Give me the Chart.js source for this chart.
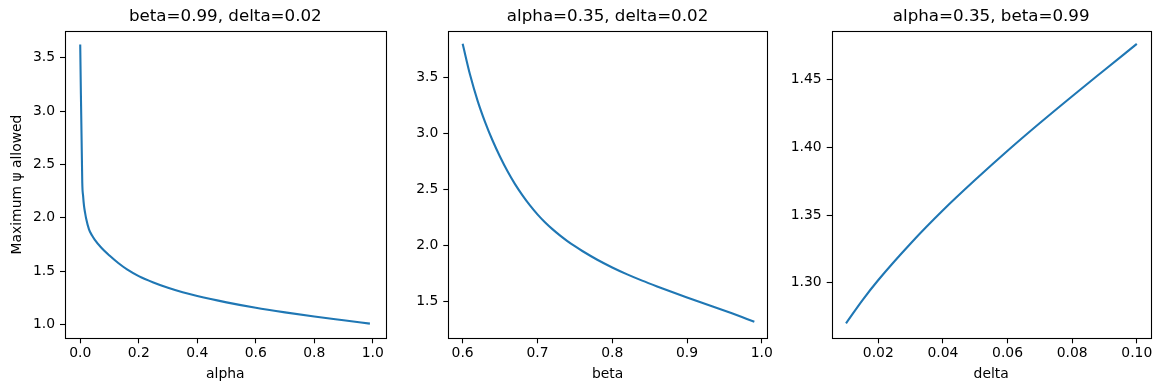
<!DOCTYPE html>
<html><head><meta charset="utf-8">
<script src="https://cdn.jsdelivr.net/npm/chart.js@4.4.1/dist/chart.umd.min.js"></script>
<style>
html,body{margin:0;padding:0;background:#fff;}
#wrap{position:relative;width:1161px;height:391px;overflow:hidden;background:#fff;}
canvas{position:absolute;top:0;}
</style></head><body>
<div id="wrap">
<canvas id="c1" width="390" height="391" style="left:0px"></canvas>
<canvas id="c2" width="385" height="391" style="left:390px"></canvas>
<canvas id="c3" width="386" height="391" style="left:775px"></canvas>
</div>
<script>
// ---- Panel 1: varying alpha (beta=0.99, delta=0.02)
const alphaValues = [0.000, 0.007, 0.010, 0.013, 0.017, 0.020, 0.030, 0.040, 0.050, 0.070, 0.100, 0.130, 0.160, 0.200, 0.250, 0.300, 0.350, 0.400, 0.500, 0.600, 0.700, 0.800, 0.900, 0.990];
const psiByAlpha  = [3.625, 2.330, 2.200, 2.110, 2.040, 1.995, 1.890, 1.835, 1.792, 1.725, 1.645, 1.575, 1.515, 1.452, 1.392, 1.342, 1.300, 1.265, 1.206, 1.155, 1.112, 1.073, 1.038, 1.007];

// ---- Panel 2: varying beta (alpha=0.35, delta=0.02)
const betaValues = [0.60, 0.61, 0.62, 0.63, 0.64, 0.65, 0.66, 0.67, 0.68, 0.69, 0.70, 0.71, 0.72, 0.73, 0.74, 0.75, 0.76, 0.78, 0.80, 0.82, 0.84, 0.86, 0.88, 0.90, 0.92, 0.94, 0.96, 0.98, 0.99];
const psiByBeta  = [3.80, 3.52, 3.29, 3.10, 2.935, 2.79, 2.66, 2.545, 2.445, 2.355, 2.275, 2.205, 2.143, 2.087, 2.036, 1.990, 1.947, 1.869, 1.800, 1.738, 1.682, 1.630, 1.580, 1.532, 1.485, 1.438, 1.390, 1.340, 1.315];

// ---- Panel 3: varying delta (alpha=0.35, beta=0.99)
const deltaValues = [0.010, 0.015, 0.020, 0.030, 0.040, 0.050, 0.060, 0.070, 0.080, 0.090, 0.100];
const psiByDelta  = [1.270, 1.2868, 1.302, 1.329, 1.3535, 1.376, 1.3975, 1.418, 1.4378, 1.4572, 1.4765];

// ---- Tick values and labels
const xTicks1 = [0.0, 0.2, 0.4, 0.6, 0.8, 1.0];
const xTickLabels1 = ['0.0', '0.2', '0.4', '0.6', '0.8', '1.0'];
const yTicks1 = [1.0, 1.5, 2.0, 2.5, 3.0, 3.5];
const yTickLabels1 = ['1.0', '1.5', '2.0', '2.5', '3.0', '3.5'];
const xTicks2 = [0.6, 0.7, 0.8, 0.9, 1.0];
const xTickLabels2 = ['0.6', '0.7', '0.8', '0.9', '1.0'];
const yTicks2 = [1.5, 2.0, 2.5, 3.0, 3.5];
const yTickLabels2 = ['1.5', '2.0', '2.5', '3.0', '3.5'];
const xTicks3 = [0.02, 0.04, 0.06, 0.08, 0.10];
const xTickLabels3 = ['0.02', '0.04', '0.06', '0.08', '0.10'];
const yTicks3 = [1.30, 1.35, 1.40, 1.45];
const yTickLabels3 = ['1.30', '1.35', '1.40', '1.45'];

const titles = ['beta=0.99, delta=0.02', 'alpha=0.35, delta=0.02', 'alpha=0.35, beta=0.99'];
const xLabels = ['alpha', 'beta', 'delta'];
const yLabel = 'Maximum \u03C8 allowed';

const FONT = 'DejaVu Sans';
const LINE = '#1f77b4';

const spines = {
  id: 'spines',
  afterDraw(chart) {
    const {ctx, chartArea: {left, top, right, bottom}} = chart;
    ctx.save();
    ctx.strokeStyle = '#000';
    ctx.lineWidth = 1.1;
    const l = Math.round(left) + 0.5, t = Math.round(top) + 0.5;
    const r = Math.round(right) + 0.5, b = Math.round(bottom) + 0.5;
    ctx.strokeRect(l, t, r - l, b - t);
    ctx.restore();
  }
};

function makeChart(id, p) {
  const pts = p.xs.map((x, i) => ({x: x, y: p.ys[i]}));
  return new Chart(document.getElementById(id), {
    type: 'scatter',
    data: {datasets: [{
      data: pts, showLine: true, borderColor: LINE, backgroundColor: LINE,
      borderWidth: 2.1, pointRadius: 0, pointHoverRadius: 0,
      cubicInterpolationMode: 'monotone', borderJoinStyle: 'round', borderCapStyle: 'butt'
    }]},
    options: {
      responsive: false, animation: false, devicePixelRatio: 1,
      layout: {padding: {left: 0, right: p.padRight, top: 0, bottom: 0}},
      plugins: {
        legend: {display: false}, tooltip: {enabled: false},
        title: {display: true, text: p.title, fullSize: false, color: '#000',
          font: {family: FONT, size: 16.7, weight: 'normal'}, padding: {top: 6.3, bottom: 4.4}}
      },
      scales: {
        x: {
          type: 'linear', position: 'bottom', min: p.xMin, max: p.xMax,
          afterBuildTicks: ax => { ax.ticks = p.xTicks.map(v => ({value: v})); },
          afterFit: s => { s.height = 52.7; },
          ticks: {callback: (v, i) => p.xTickLabels[i], color: '#000', font: {family: FONT, size: 13.9},
                  padding: 2, maxRotation: 0, autoSkip: false},
          grid: {drawOnChartArea: false, drawTicks: true, tickLength: 5, tickColor: '#000', tickWidth: 1.1},
          border: {display: false},
          title: {display: true, text: p.xLabel, color: '#000', font: {family: FONT, size: 13.9}, padding: {top: 0, bottom: 8}}
        },
        y: {
          type: 'linear', position: 'left', min: p.yMin, max: p.yMax,
          afterBuildTicks: ax => { ax.ticks = p.yTicks.map(v => ({value: v})); },
          afterFit: s => { s.width = p.yWidth; },
          ticks: {callback: (v, i) => p.yTickLabels[i], color: '#000', font: {family: FONT, size: 13.9},
                  padding: 5, autoSkip: false},
          grid: {drawOnChartArea: false, drawTicks: true, tickLength: 5, tickColor: '#000', tickWidth: 1.1},
          border: {display: false},
          title: {display: !!p.yLabel, text: p.yLabel || '', color: '#000', font: {family: FONT, size: 13.9}, padding: {top: 9, bottom: 0}}
        }
      }
    },
    plugins: [spines]
  });
}

makeChart('c1', {xs: alphaValues, ys: psiByAlpha, title: titles[0], xLabel: xLabels[0], yLabel: yLabel,
  xMin: -0.052, xMax: 1.044, yMin: 0.869, yMax: 3.753,
  xTicks: xTicks1, xTickLabels: xTickLabels1, yTicks: yTicks1, yTickLabels: yTickLabels1,
  yWidth: 65, padRight: 4.3});
makeChart('c2', {xs: betaValues, ys: psiByBeta, title: titles[1], xLabel: xLabels[1], yLabel: null,
  xMin: 0.5808, xMax: 1.0067, yMin: 1.1665, yMax: 3.9166,
  xTicks: xTicks2, xTickLabels: xTickLabels2, yTicks: yTicks2, yTickLabels: yTickLabels2,
  yWidth: 58.3, padRight: 7.3});
makeChart('c3', {xs: deltaValues, ys: psiByDelta, title: titles[2], xLabel: xLabels[2], yLabel: null,
  xMin: 0.00557, xMax: 0.1043, yMin: 1.2589, yMax: 1.4862,
  xTicks: xTicks3, xTickLabels: xTickLabels3, yTicks: yTicks3, yTickLabels: yTickLabels3,
  yWidth: 56.7, padRight: 10.3});
</script>
</body></html>
